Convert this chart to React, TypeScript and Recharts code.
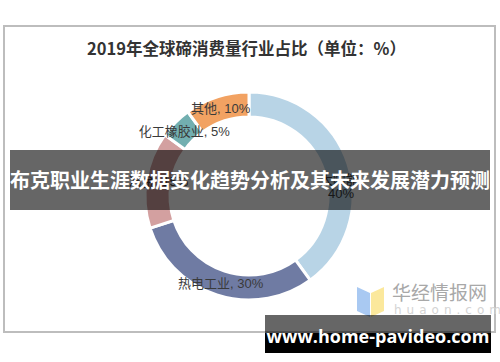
import { PieChart, Pie, Cell } from 'recharts'

// 2019年全球碲消费量行业占比（单位：%）
const categories = ['太阳能', '热电工业', '冶金', '化工橡胶业', '其他']
const shares = [40, 30, 15, 5, 10]
const sliceColors = ['#b8d4e6', '#6f7ba3', '#d3a0a0', '#72afb0', '#f2a262']

const data = categories.map((name, i) => ({ name, value: shares[i] }))

const RADIAN = Math.PI / 180
const labelFont = '"Liberation Sans", "Noto Sans CJK SC", sans-serif'

function renderLabel(props: any) {
  const { cx, cy, midAngle, innerRadius, outerRadius, name, value, index } = props
  const r = (innerRadius + outerRadius) / 2
  const x = cx + r * Math.cos(-midAngle * RADIAN)
  const y = cy + r * Math.sin(-midAngle * RADIAN)
  // the big slice label wraps onto two lines and sits a bit lower
  if (index === 0) {
    return (
      <text x={x + 5} y={y} textAnchor="middle" fill="#3a3a3a" fontSize={13} fontFamily={labelFont}>
        <tspan x={x + 5} dy={16}>{name},</tspan>
        <tspan x={x + 5} dy={14}>{value}%</tspan>
      </text>
    )
  }
  return (
    <text x={x} y={y} textAnchor="middle" dominantBaseline="central" fill="#3a3a3a" fontSize={13} fontFamily={labelFont}>
      {name}, {value}%
    </text>
  )
}

export default function App() {
  return (
    <div style={{ position: 'absolute', left: 0, top: 0, width: 500, height: 362, background: '#fff', overflow: 'hidden' }}>
      {/* chart frame */}
      <div style={{ position: 'absolute', left: 3, top: 25, width: 489, height: 304, border: '2px solid #bdbdbd' }} />
      <div
        style={{
          position: 'absolute', left: 0, top: 37, width: 493, textAlign: 'center',
          fontFamily: '"Noto Sans CJK SC", sans-serif', fontWeight: 700, fontSize: 16.5, color: '#333', lineHeight: '22px',
        }}
      >
        2019年全球碲消费量行业占比（单位：%）
      </div>

      <div style={{ position: 'absolute', left: 0, top: 0 }}>
        <PieChart width={500} height={362} margin={{ top: 0, right: 0, bottom: 0, left: 0 }}>
          <Pie
            data={data}
            dataKey="value"
            nameKey="name"
            cx={249}
            cy={196}
            innerRadius={79}
            outerRadius={104}
            startAngle={90}
            endAngle={-270}
            stroke="#fff"
            strokeWidth={3}
            label={renderLabel}
            labelLine={false}
            isAnimationActive={false}
          >
            {data.map((d, i) => (
              <Cell key={d.name} fill={sliceColors[i]} />
            ))}
          </Pie>
        </PieChart>
      </div>

      {/* watermark */}
      <svg style={{ position: 'absolute', left: 355, top: 283 }} width={32} height={36}>
        <polygon points="2,4 15,10 15,34 2,28" fill="#a9c9f2" />
        <polygon points="16,10 29,4 29,28 16,34" fill="#fbe89c" />
      </svg>
      <div style={{ position: 'absolute', left: 392, top: 280, fontFamily: '"Noto Sans CJK SC", sans-serif', fontSize: 19, color: '#a8a8a8', lineHeight: '24px' }}>
        华经情报网
      </div>
      <div style={{ position: 'absolute', left: 394, top: 303, fontFamily: '"DejaVu Sans", sans-serif', fontSize: 12, color: '#d4d4d4', letterSpacing: 5, lineHeight: '14px' }}>
        huaon.com
      </div>

      {/* overlay banner */}
      <div
        style={{
          position: 'absolute', left: 10, top: 150, width: 480, height: 60, background: 'rgba(0,0,0,0.6)',
          color: '#fff', fontFamily: '"Noto Sans CJK SC", sans-serif', fontWeight: 700, fontSize: 20,
          lineHeight: '60px', textAlign: 'center', whiteSpace: 'nowrap',
        }}
      >
        布克职业生涯数据变化趋势分析及其未来发展潜力预测
      </div>

      {/* site box */}
      <div style={{ position: 'absolute', left: 265, top: 315, width: 226, height: 18, background: 'rgba(0,0,0,0.6)' }} />
      <div style={{ position: 'absolute', left: 265, top: 333, width: 226, height: 20, background: '#000' }} />
      <div
        style={{
          position: 'absolute', left: 265, top: 322, width: 226, textAlign: 'center', color: '#fff',
          fontFamily: '"Open Sans", sans-serif', fontWeight: 700, fontSize: 18, lineHeight: '28px',
        }}
      >
        www.home-pavideo.com
      </div>
    </div>
  )
}
